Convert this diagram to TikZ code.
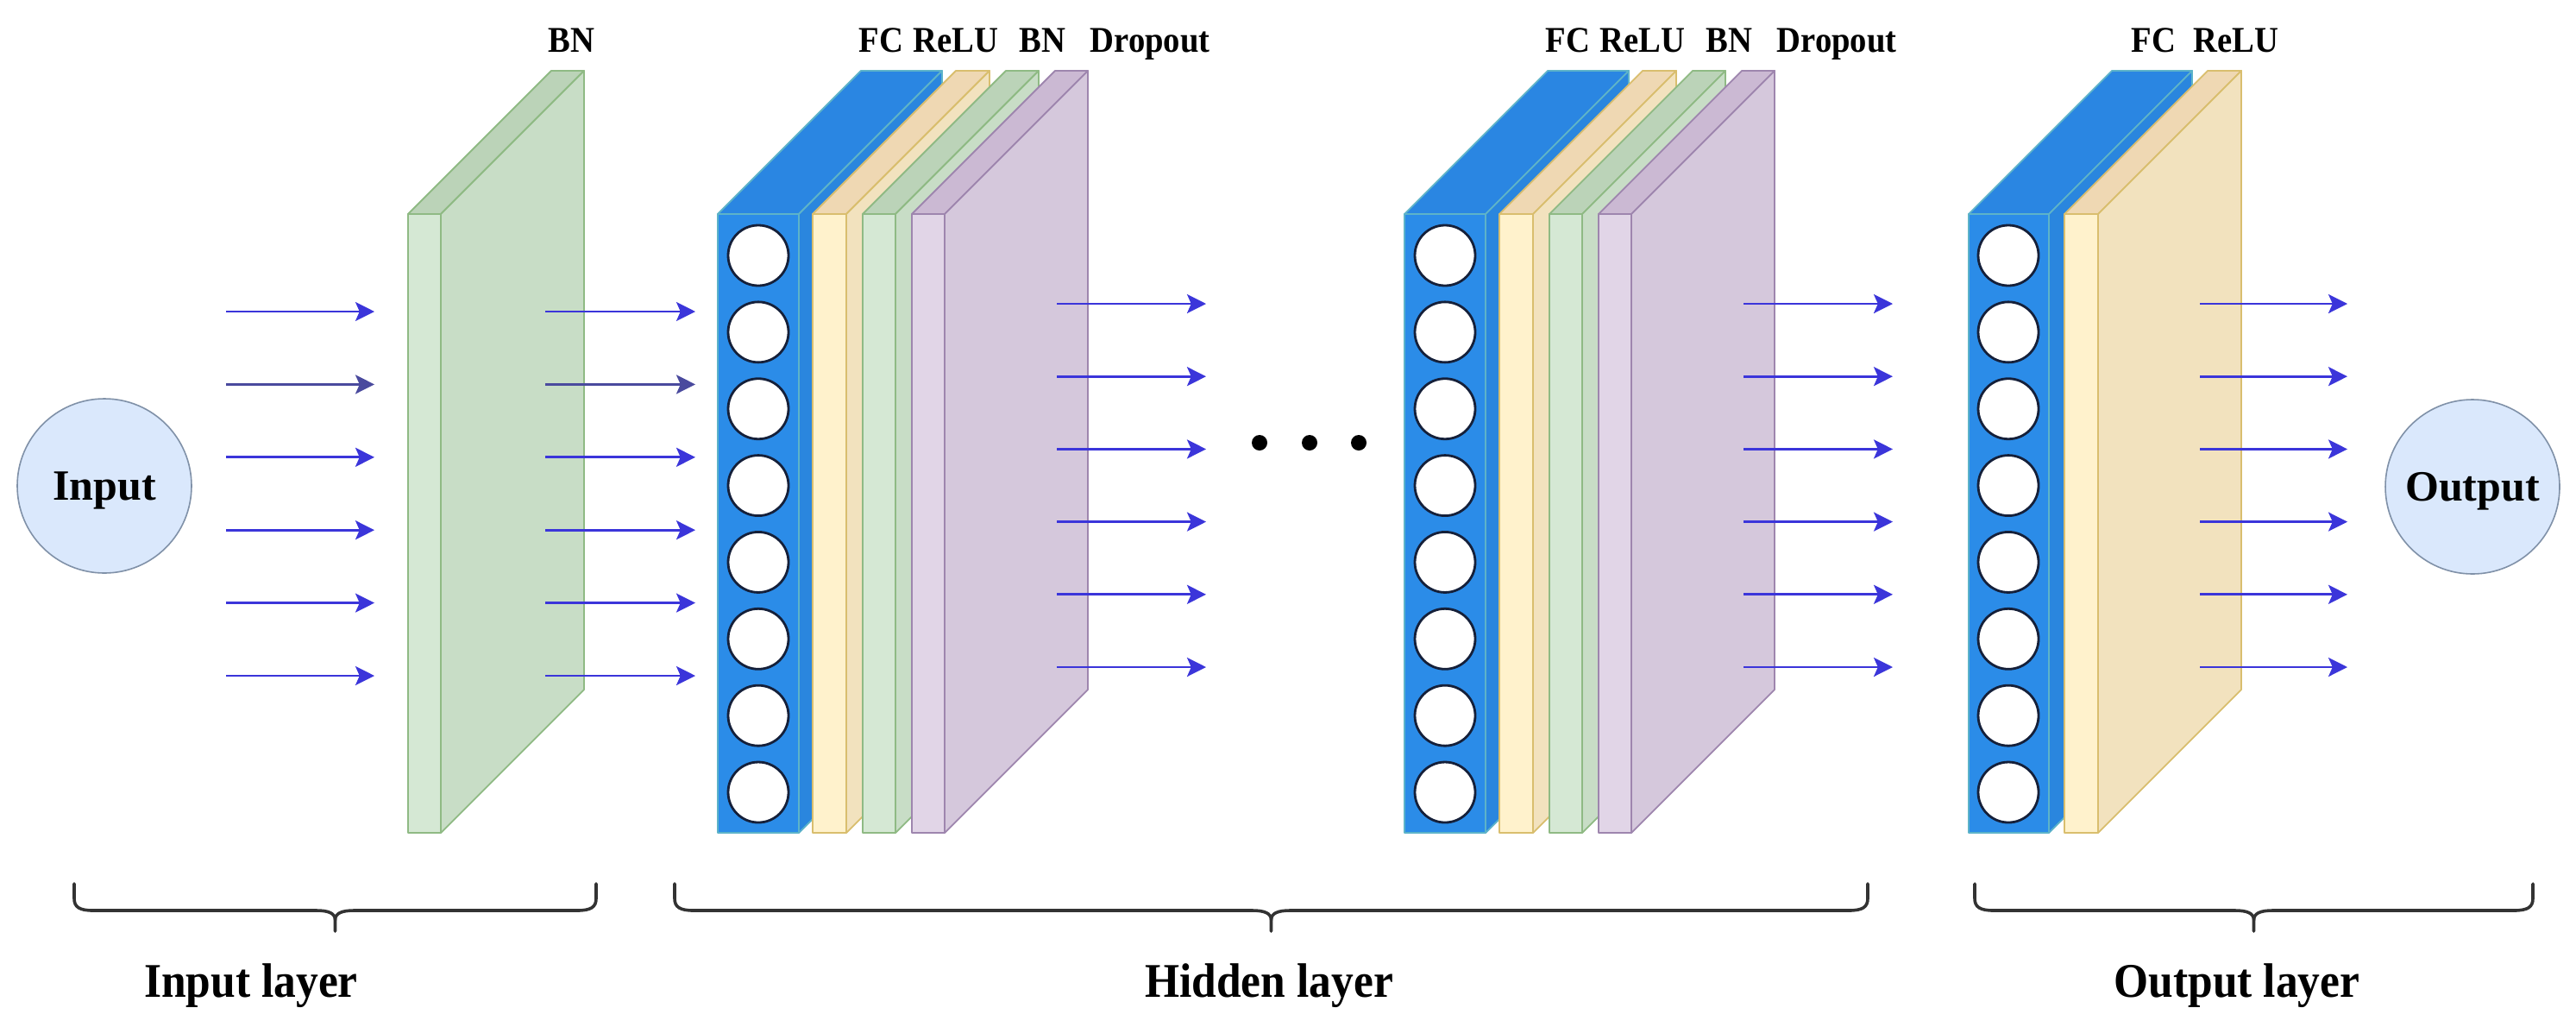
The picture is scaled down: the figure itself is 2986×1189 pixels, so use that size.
\documentclass[tikz,border=0pt]{standalone}
\usepackage{fontspec}
\setmainfont{Liberation Serif}
\newfontfamily\lblfont[FakeStretch=0.92]{Liberation Serif}
\usetikzlibrary{arrows.meta}
\definecolor{gfront}{HTML}{D5E8D4}
\definecolor{gside}{HTML}{C8DDC6}
\definecolor{gtop}{HTML}{BBD3B8}
\definecolor{gline}{HTML}{8FBA84}
\definecolor{bfront}{HTML}{2B8CE8}
\definecolor{bside}{HTML}{2A86DE}
\definecolor{btop}{HTML}{2A86E2}
\definecolor{bline}{HTML}{5DB3C9}
\definecolor{yfront}{HTML}{FFF2CC}
\definecolor{yside}{HTML}{F2E2BE}
\definecolor{ytop}{HTML}{EFD8B3}
\definecolor{yline}{HTML}{D9BE6E}
\definecolor{pfront}{HTML}{E1D5E7}
\definecolor{pside}{HTML}{D5C8DC}
\definecolor{ptop}{HTML}{CBB9D3}
\definecolor{pline}{HTML}{9E86AE}
\definecolor{arrowc}{HTML}{3B35DA}
\definecolor{arrowd}{HTML}{4A4A9E}
\definecolor{iofill}{HTML}{DAE8FC}
\definecolor{ioline}{HTML}{8091A8}
\definecolor{neuronc}{HTML}{15203A}
\definecolor{bracec}{HTML}{333333}
\newcommand{\myslab}[6]{%
  \pgfmathsetmacro\slabl{#1}%
  \pgfmathsetmacro\slabr{#1+#2}%
  \filldraw[fill=#5,draw=#6,line width=0.45pt,line join=round] (\slabl,248) -- (\slabr,248) -- ({\slabr+166},82) -- ({\slabl+166},82) -- cycle;
  \filldraw[fill=#4,draw=#6,line width=0.45pt,line join=round] (\slabr,248) -- ({\slabr+166},82) -- ({\slabr+166},799) -- (\slabr,965) -- cycle;
  \filldraw[fill=#3,draw=#6,line width=0.45pt,line join=round] (\slabl,248) rectangle (\slabr,965);
}
\newcommand{\mybrace}[2]{%
  \pgfmathsetmacro\brl{#1}%
  \pgfmathsetmacro\brr{#2}%
  \pgfmathsetmacro\brc{(#1+#2)/2}%
  \draw[brace] (\brl,1024) -- (\brl,1041) .. controls (\brl,1051) and ({\brl+6},1055) .. ({\brl+22},1055) -- ({\brc-22},1055) .. controls ({\brc-8},1055) and (\brc,1058) .. (\brc,1066) -- (\brc,1079);
  \draw[brace] (\brr,1024) -- (\brr,1041) .. controls (\brr,1051) and ({\brr-6},1055) .. ({\brr-22},1055) -- ({\brc+22},1055) .. controls ({\brc+8},1055) and (\brc,1058) .. (\brc,1066);
}
\begin{document}
\begin{tikzpicture}[x=0.25pt,y=-0.25pt,
  arr/.style={line width=0.7pt,-{Stealth[length=5.5pt,width=5.5pt,inset=1.2pt]}},
  neuron/.style={circle,draw=neuronc,fill=white,line width=0.7pt,minimum size=17.5pt,inner sep=0pt},
  io/.style={circle,draw=ioline,fill=iofill,line width=0.4pt,minimum size=50.5pt,inner sep=0pt,text depth=0pt,font=\bfseries\fontsize{12.5}{14}\selectfont},
  toplbl/.style={anchor=base west,inner sep=0pt,font=\lblfont\bfseries\fontsize{10.5}{12}\selectfont},
  botlbl/.style={anchor=base,inner sep=0pt,font=\lblfont\bfseries\fontsize{14}{16}\selectfont},
  brace/.style={draw=bracec,line width=0.9pt,line cap=round,line join=round},
  dotnode/.style={circle,fill=black,minimum size=4.5pt,inner sep=0pt}]
\useasboundingbox (0,0) rectangle (2986,1189);
\fill[white] (0,0) rectangle (2986,1189);

% input / output circles
\node[io] (input) at (121,563) {Input};
\node[io] (output) at (2866,564) {Output};

% input BN slab
\myslab{473}{38}{gfront}{gside}{gtop}{gline}

% hidden layer 1
\myslab{832}{94}{bfront}{bside}{btop}{bline}
\myslab{942}{39}{yfront}{yside}{ytop}{yline}
\myslab{1000}{38}{gfront}{gside}{gtop}{gline}
\myslab{1057}{38}{pfront}{pside}{ptop}{pline}

% hidden layer 2
\myslab{1628}{94}{bfront}{bside}{btop}{bline}
\myslab{1738}{39}{yfront}{yside}{ytop}{yline}
\myslab{1796}{38}{gfront}{gside}{gtop}{gline}
\myslab{1853}{38}{pfront}{pside}{ptop}{pline}

% output layer
\myslab{2282}{93}{bfront}{bside}{btop}{bline}
\myslab{2393}{39}{yfront}{yside}{ytop}{yline}

% neurons
\foreach \k in {0,...,7} {
  \pgfmathsetmacro\cy{296+88.86*\k}
  \node[neuron] (ha\k) at (879,\cy) {};
  \node[neuron] (hb\k) at (1675,\cy) {};
  \node[neuron] (oc\k) at (2328,\cy) {};
}

% arrows
\foreach \k in {0,...,5} {
  \pgfmathsetmacro\ya{361+84.4*\k}
  \pgfmathsetmacro\yb{352+84.2*\k}
  \ifnum\k=1 \def\ac{arrowd}\else\def\ac{arrowc}\fi
  \coordinate (ias\k) at (262,\ya);  \coordinate (iae\k) at (434,\ya);
  \coordinate (ibs\k) at (632,\ya);  \coordinate (ibe\k) at (806,\ya);
  \coordinate (hcs\k) at (1225,\yb); \coordinate (hce\k) at (1398,\yb);
  \coordinate (hds\k) at (2021,\yb); \coordinate (hde\k) at (2194,\yb);
  \coordinate (oes\k) at (2550,\yb); \coordinate (oee\k) at (2721,\yb);
  \draw[arr,draw=\ac,fill=arrowc] (ias\k) -- (iae\k);
  \draw[arr,draw=\ac,fill=arrowc] (ibs\k) -- (ibe\k);
  \draw[arr,draw=arrowc] (hcs\k) -- (hce\k);
  \draw[arr,draw=arrowc] (hds\k) -- (hde\k);
  \draw[arr,draw=arrowc] (oes\k) -- (oee\k);
}

% dots
\node[dotnode] (d1) at (1460,513) {};
\node[dotnode] (d2) at (1518,513) {};
\node[dotnode] (d3) at (1575,513) {};

% top labels
\node[toplbl] (lbn0) at (635,60) {BN};
\node[toplbl] (lfc1) at (995,60) {FC};
\node[toplbl] (lre1) at (1058,60) {ReLU};
\node[toplbl] (lbn1) at (1181,60) {BN};
\node[toplbl] (ldr1) at (1263,60) {Dropout};
\node[toplbl] (lfc2) at (1791,60) {FC};
\node[toplbl] (lre2) at (1854,60) {ReLU};
\node[toplbl] (lbn2) at (1977,60) {BN};
\node[toplbl] (ldr2) at (2059,60) {Dropout};
\node[toplbl] (lfc3) at (2470,60) {FC};
\node[toplbl] (lre3) at (2542,60) {ReLU};

% braces
\mybrace{86}{691}
\mybrace{782}{2165}
\mybrace{2289}{2936}

% bottom labels
\node[botlbl] (linl) at (291,1155) {Input layer};
\node[botlbl] (lhid) at (1471,1155) {Hidden layer};
\node[botlbl] (lout) at (2593,1155) {Output layer};
\end{tikzpicture}
\end{document}
